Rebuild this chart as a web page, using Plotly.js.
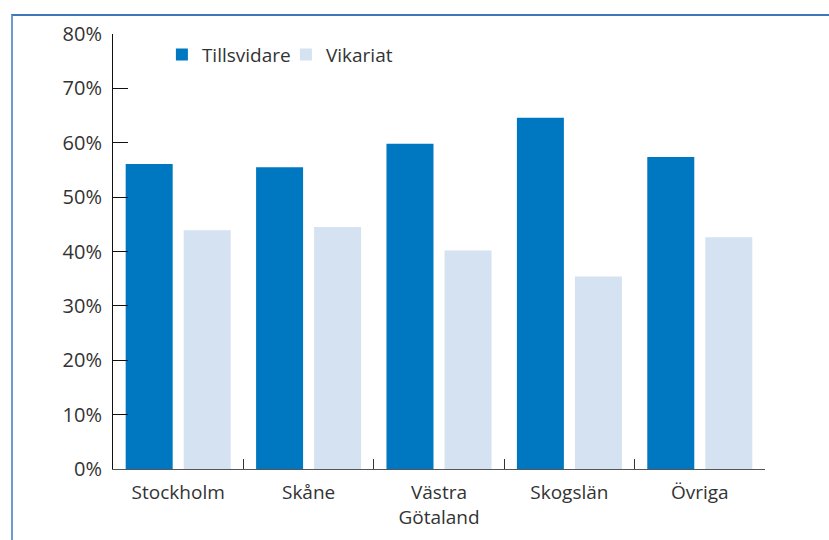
<!DOCTYPE html>
<html>
<head>
<meta charset="utf-8">
<script src="https://cdn.plot.ly/plotly-3.0.1.min.js"></script>
<style>
  body { margin: 0; background: #fff; }
  #frame { position: absolute; left: 11px; top: 14px; width: 830px; height: 540px;
           border-top: 2px solid #3f76b8; border-left: 2px solid #6f9bd0; }
  #chart { position: absolute; left: 0; top: 0; width: 829px; height: 540px; }
</style>
</head>
<body>
<div id="frame"></div>
<div id="chart"></div>
<script>
// data
const regions = ["Stockholm", "Skåne", "Västra<br>Götaland", "Skogslän", "Övriga"];
const tillsvidare = [56.1, 55.5, 59.8, 64.6, 57.4];
const vikariat = [43.9, 44.5, 40.2, 35.4, 42.6];
const yTicks = [0, 10, 20, 30, 40, 50, 60, 70, 80];

const fontFamily = "'Open Sans', 'Noto Sans', sans-serif";

let traces = [
  {
    x: regions,
    y: tillsvidare,
    type: 'bar',
    name: 'Tillsvidare',
    marker: { color: '#0078c1' }
  },
  {
    x: regions,
    y: vikariat,
    type: 'bar',
    name: 'Vikariat',
    marker: { color: '#d5e2f2' }
  }
];

let layout = {
  width: 829,
  height: 540,
  margin: { l: 113, r: 64, t: 34, b: 71 },
  paper_bgcolor: 'rgba(0,0,0,0)',
  plot_bgcolor: 'rgba(0,0,0,0)',
  font: { family: fontFamily, size: 19, color: '#333' },
  barmode: 'group',
  bargap: 0.11,
  bargroupgap: 0.19,
  showlegend: true,
  legend: {
    orientation: 'h',
    x: 0.075,
    y: 0.996,
    xanchor: 'left',
    yanchor: 'top',
    font: { size: 19 },
    itemwidth: 30,
    entrywidth: 79,
    traceorder: 'normal',
    bgcolor: 'rgba(0,0,0,0)'
  },
  xaxis: {
    type: 'category',
    showline: true,
    linecolor: '#555',
    linewidth: 1,
    ticks: 'inside',
    tickson: 'boundaries',
    ticklen: 10,
    tickcolor: '#333',
    showgrid: false,
    zeroline: false,
    ticklabelstandoff: 6,
    tickfont: { size: 19 },
    fixedrange: true
  },
  yaxis: {
    range: [0, 80],
    tickvals: yTicks,
    ticktext: yTicks.map(v => v + '%'),
    showline: true,
    linecolor: '#111',
    linewidth: 1,
    ticks: 'inside',
    ticklen: 15,
    tickcolor: '#111',
    showgrid: false,
    zeroline: false,
    ticklabelstandoff: 6,
    tickfont: { size: 20 },
    fixedrange: true
  }
};

Plotly.newPlot('chart', traces, layout, { displayModeBar: false, staticPlot: true });
</script>
</body>
</html>
